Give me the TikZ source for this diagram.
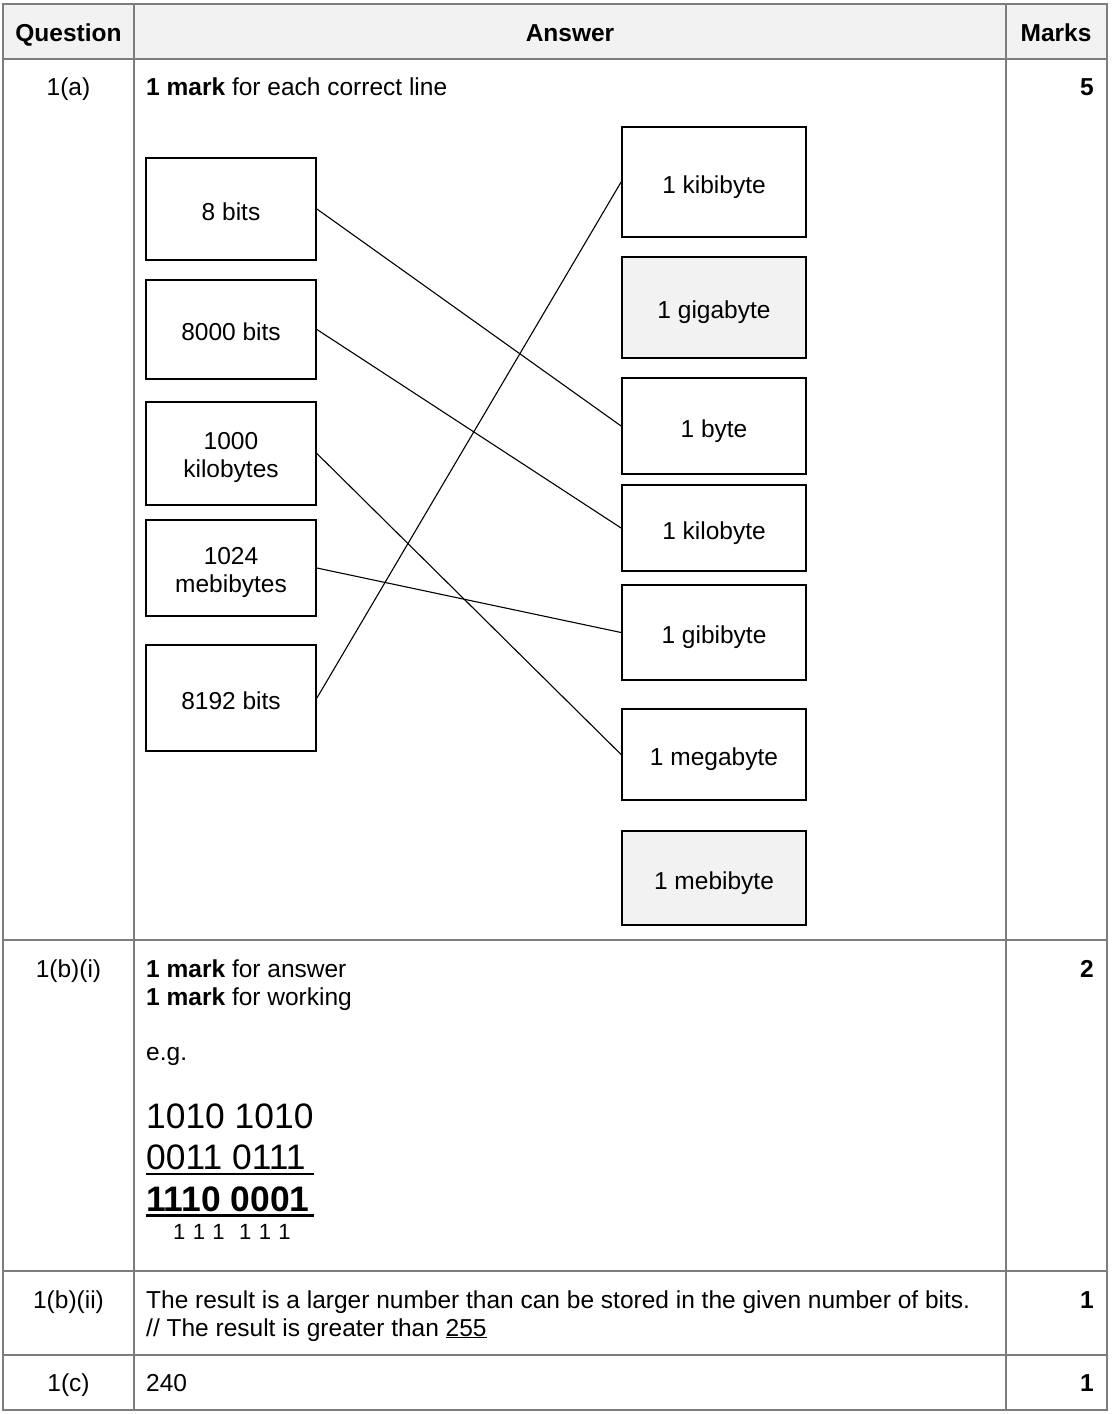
\documentclass[tikz,border=0pt]{standalone}
\usepackage{fontspec}
\setmainfont{Liberation Sans}
\usepackage{tikz}
\definecolor{gridgray}{RGB}{125,125,125}
\definecolor{lightfill}{RGB}{242,242,242}
\begin{document}
\begin{tikzpicture}[x=1pt,y=-1pt,
  grid/.style={draw=gridgray, line width=1.6pt},
  txt/.style={font=\fontsize{24.5}{28}\selectfont, inner sep=0pt},
  btxt/.style={font=\fontsize{24.5}{28}\selectfont\bfseries, inner sep=0pt},
  boxbase/.style={draw=black, line width=1.8pt, fill=white, inner sep=0pt, align=center, font=\fontsize{24.5}{28}\selectfont},
  lboxtwo/.style={boxbase, minimum width=170pt},
  lbox/.style={boxbase, minimum width=170pt, text height=24pt, text depth=2pt},
  rbox/.style={boxbase, minimum width=184pt, text height=24pt, text depth=2pt},
  gbox/.style={rbox, fill=lightfill},
  link/.style={draw=black, line width=1.1pt},
  big/.style={font=\fontsize{35.4}{40}\selectfont, inner sep=0pt},
  bigb/.style={font=\fontsize{35.4}{40}\selectfont\bfseries, inner sep=0pt},
  carry/.style={font=\fontsize{22}{26}\selectfont, inner sep=0pt}
]
\useasboundingbox (0,0) rectangle (1112,1414);
% header fill
\fill[lightfill] (3,4) rectangle (1107,59);
% table grid
\draw[grid] (3,4) rectangle (1107,1410);
\draw[grid] (134,4) -- (134,1410);
\draw[grid] (1006,4) -- (1006,1410);
\draw[grid] (3,59) -- (1107,59);
\draw[grid] (3,940) -- (1107,940);
\draw[grid] (3,1271) -- (1107,1271);
\draw[grid] (3,1355) -- (1107,1355);

% header
\node[btxt, anchor=base] (hq) at (68.5,41) {Question};
\node[btxt, anchor=base] (ha) at (570,41) {Answer};
\node[btxt, anchor=base] (hm) at (1056,41) {Marks};

% row 1(a)
\node[txt, anchor=base] (q1a) at (68.5,95) {1(a)};
\node[txt, anchor=base west] (t1a) at (146,95) {\textbf{1 mark} for each correct line};
\node[btxt, anchor=base east] (m1a) at (1094,95) {5};

% left boxes
\node[lbox, minimum height=102pt] (b8) at (231,209) {8 bits};
\node[lbox, minimum height=99pt] (b8000) at (231,329.5) {8000 bits};
\node[lboxtwo, minimum height=103pt] (b1000) at (231,453.5) {\rule{0pt}{25.5pt}1000\\kilobytes};
\node[lboxtwo, minimum height=96pt] (b1024) at (231,568) {\rule{0pt}{25.5pt}1024\\mebibytes};
\node[lbox, minimum height=106pt] (b8192) at (231,698) {8192 bits};

% right boxes
\node[rbox, minimum height=110pt] (kib) at (714,182) {1 kibibyte};
\node[gbox, minimum height=101pt] (gb) at (714,307.5) {1 gigabyte};
\node[rbox, minimum height=96pt] (byte) at (714,426) {1 byte};
\node[rbox, minimum height=86pt] (kb) at (714,528) {1 kilobyte};
\node[rbox, minimum height=95pt] (gib) at (714,632.5) {1 gibibyte};
\node[rbox, minimum height=91pt] (mb) at (714,754.5) {1 megabyte};
\node[gbox, minimum height=94pt] (mib) at (714,878) {1 mebibyte};

% connectors
\draw[link] (b8.east) -- (byte.west);
\draw[link] (b8000.east) -- (kb.west);
\draw[link] (b1000.east) -- (mb.west);
\draw[link] (b1024.east) -- (gib.west);
\draw[link] (b8192.east) -- (kib.west);

% row 1(b)(i)
\node[txt, anchor=base] (q1bi) at (68.5,977) {1(b)(i)};
\node[txt, anchor=base west] (t1bi1) at (146,977) {\textbf{1 mark} for answer};
\node[txt, anchor=base west] (t1bi2) at (146,1005) {\textbf{1 mark} for working};
\node[txt, anchor=base west] (eg) at (146,1060) {e.g.};
\node[btxt, anchor=base east] (m1bi) at (1094,977) {2};
\node[big, anchor=base west] (n1) at (146,1128) {1010 1010};
\node[big, anchor=base west] (n2) at (146,1169) {0011 0111};
\node[bigb, anchor=base west] (n3) at (146,1211) {1110 0001};
\draw[line width=2pt] (146,1173.5) -- (314,1173.5);
\draw[line width=3pt] (146,1215.5) -- (314,1215.5);
\node[carry, anchor=base west] (c) at (173,1239) {1\,\,1\,\,1\,\,\,\,1\,\,1\,\,1};

% row 1(b)(ii)
\node[txt, anchor=base] (q1bii) at (68.5,1308) {1(b)(ii)};
\node[txt, anchor=base west] (t1bii1) at (146,1308) {The result is a larger number than can be stored in the given number of bits.};
\node[txt, anchor=base west] (t1bii2) at (146,1336) {// The result is greater than \underline{255}};
\node[btxt, anchor=base east] (m1bii) at (1094,1308) {1};

% row 1(c)
\node[txt, anchor=base] (q1c) at (68.5,1391) {1(c)};
\node[txt, anchor=base west] (t1c) at (146,1391) {240};
\node[btxt, anchor=base east] (m1c) at (1094,1391) {1};
\end{tikzpicture}
\end{document}
